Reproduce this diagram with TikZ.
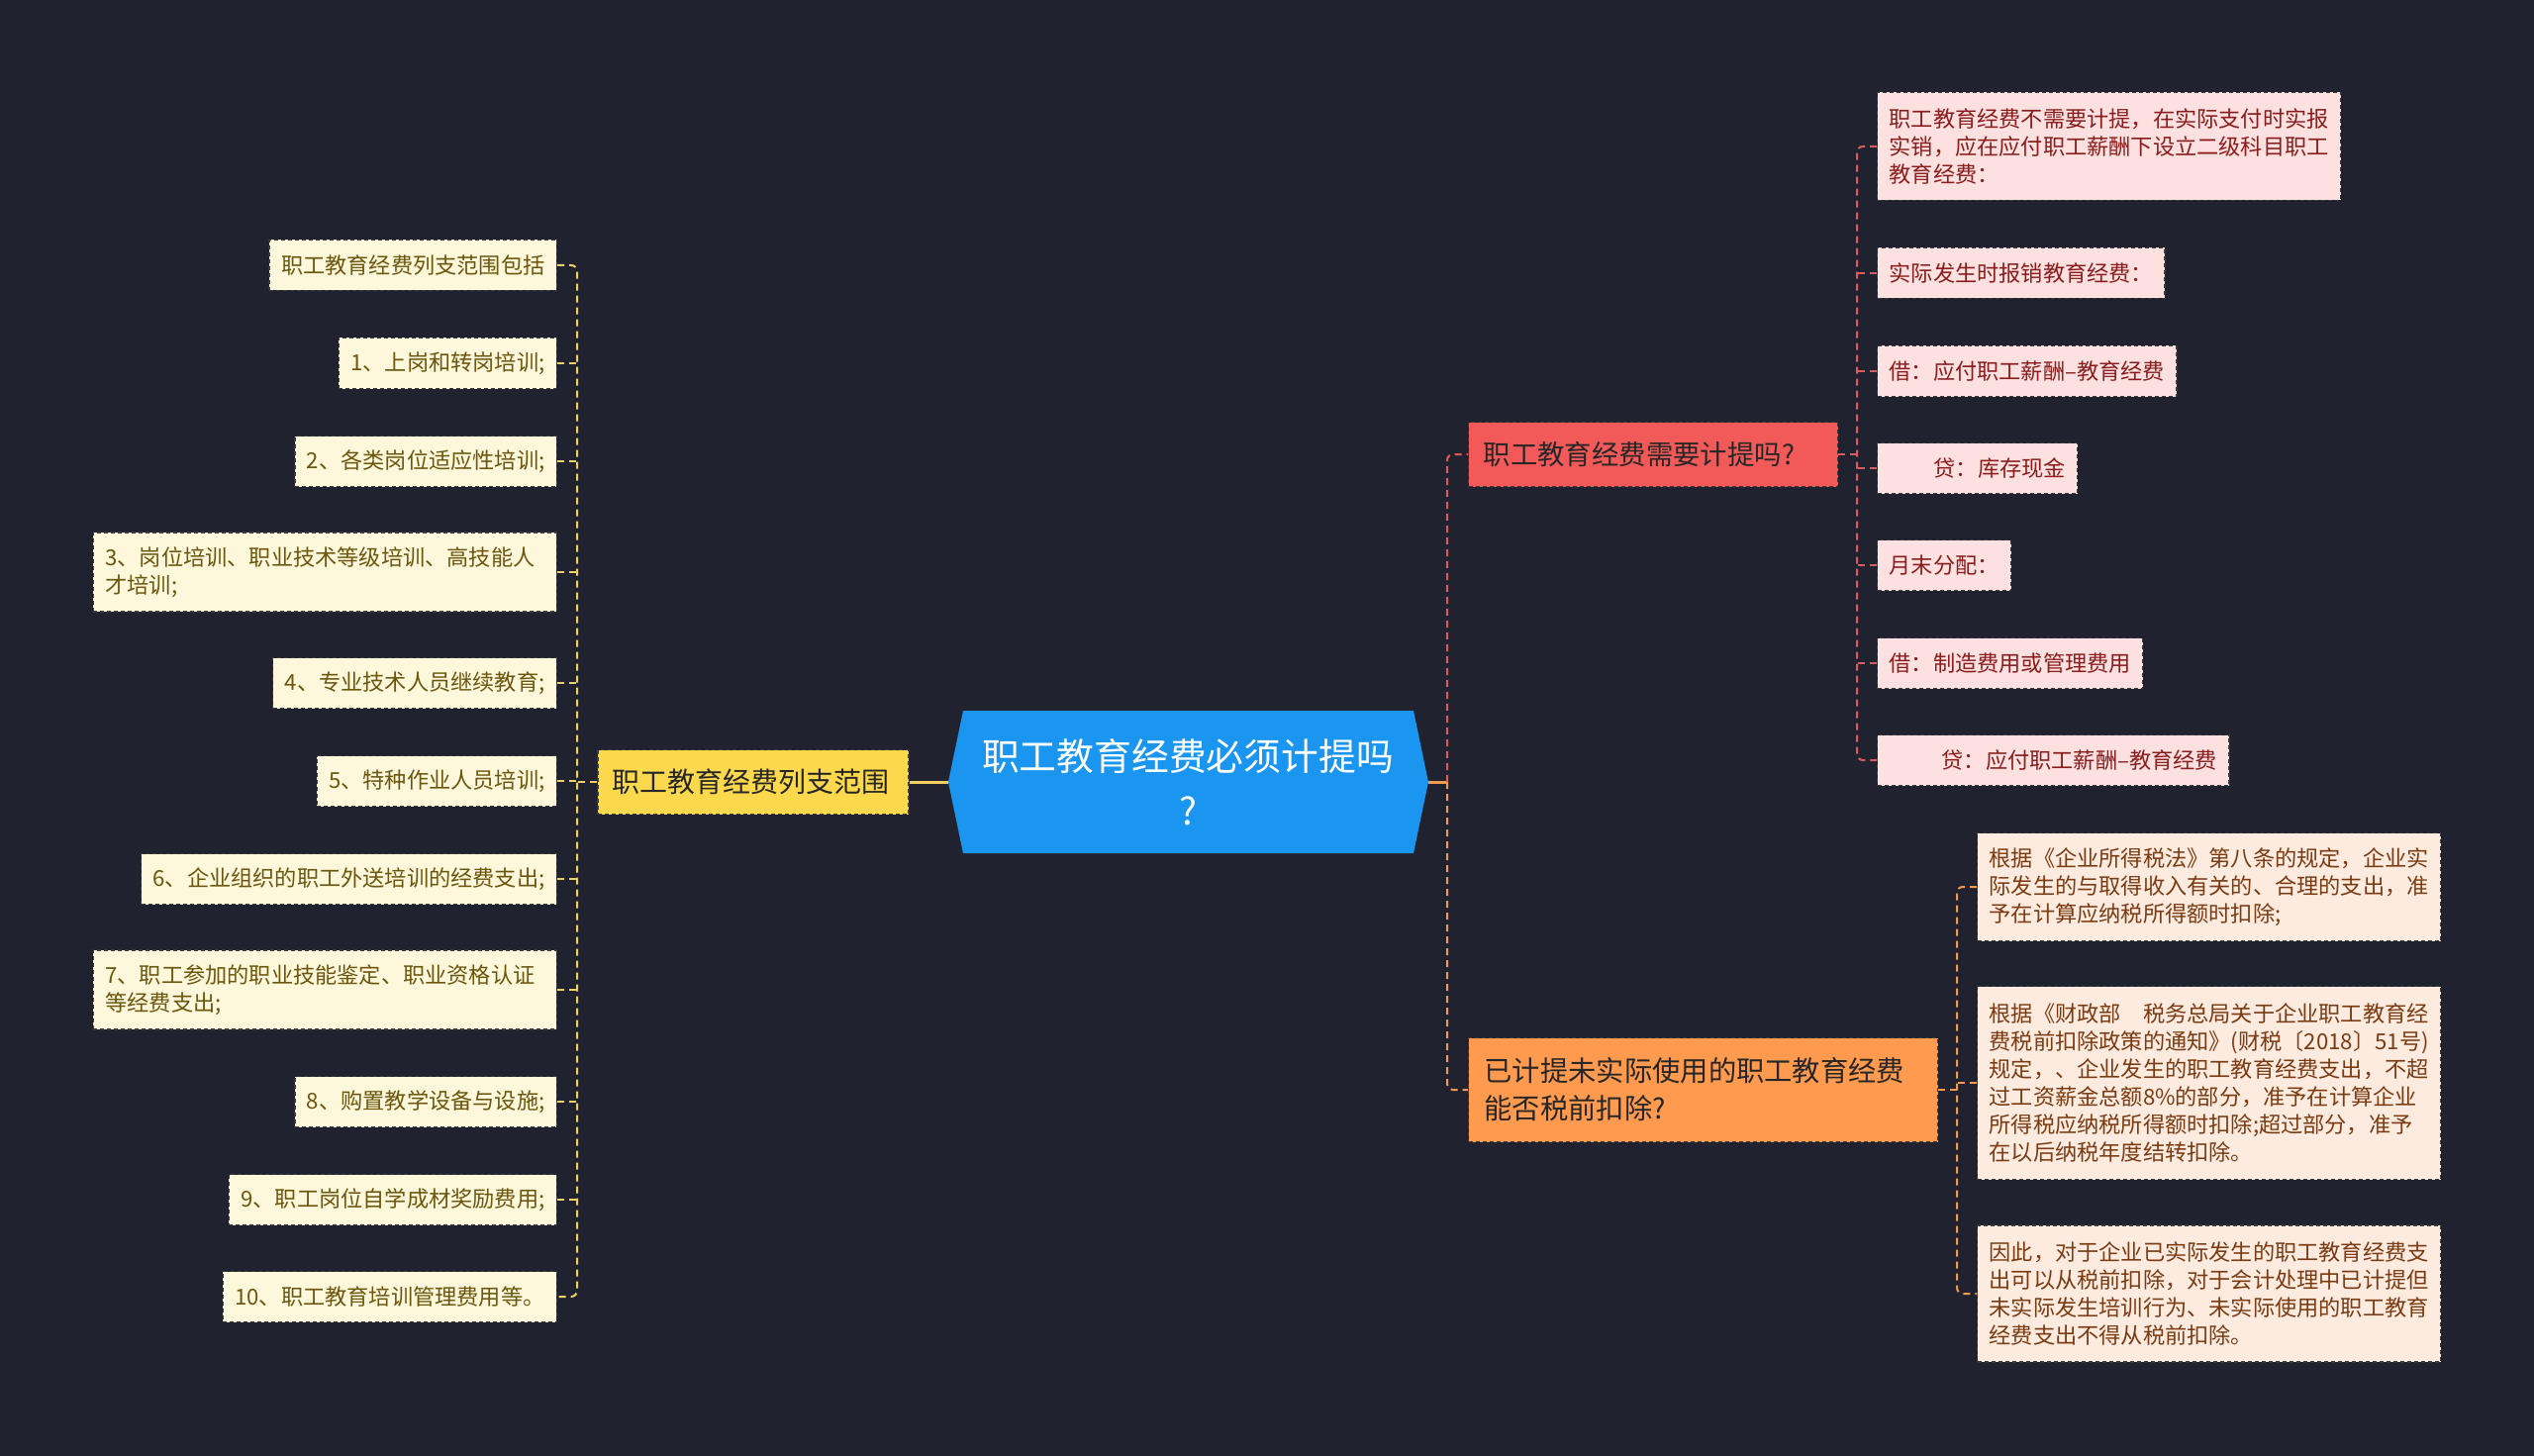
\documentclass[tikz,border=0pt]{standalone}
\usepackage{fontspec}
\setmainfont{Noto Sans CJK SC}
\definecolor{bg}{HTML}{20232F}
\definecolor{cblue}{HTML}{1B96F0}
\definecolor{myel}{HTML}{FCD84C}
\definecolor{mred}{HTML}{F25A5A}
\definecolor{morg}{HTML}{FF9A4E}
\definecolor{lyel}{HTML}{FDF7DC}
\definecolor{tyel}{HTML}{6B560C}
\definecolor{lred}{HTML}{FDE1E1}
\definecolor{tred}{HTML}{8A1C1C}
\definecolor{lorg}{HTML}{FDEBDF}
\definecolor{torg}{HTML}{7A3B12}
\definecolor{yline}{HTML}{F2D060}
\definecolor{rline}{HTML}{E05A5C}
\definecolor{oline}{HTML}{F29A50}
\definecolor{edge}{HTML}{3A3A3A}
\begin{document}
\begin{tikzpicture}[x=0.5pt,y=-0.5pt,
  lbox/.style={rectangle, draw=edge, dash pattern=on 2pt off 1.5pt, line width=0.6pt,
    inner xsep=6pt, inner ysep=4pt, align=left,
    font=\fontsize{11.1pt}{14pt}\selectfont, minimum height=25.5pt},
  yleaf/.style={lbox, fill=lyel, text=tyel, anchor=east},
  rleaf/.style={lbox, fill=lred, text=tred, anchor=west},
  oleaf/.style={lbox, fill=lorg, text=torg, anchor=west},
  mainbox/.style={rectangle, draw=edge, dash pattern=on 2pt off 1.5pt, line width=0.6pt,
    inner ysep=4pt, align=left, text=black!85},
  ydash/.style={draw=yline, line width=1pt, dash pattern=on 3.5pt off 2.5pt, rounded corners=3pt},
  rdash/.style={draw=rline, line width=1pt, dash pattern=on 3.5pt off 2.5pt, rounded corners=3pt},
  odash/.style={draw=oline, line width=1pt, dash pattern=on 3.5pt off 2.5pt, rounded corners=3pt},
]
\fill[bg] (0,0) rectangle (2560,1471);
\useasboundingbox (0,0) rectangle (2560,1471);

% centre
\fill[cblue] (958,790) -- (973,718) -- (1428,718) -- (1443,790) -- (1428,862) -- (973,862) -- cycle;
\node[font=\fontsize{18.9pt}{27.5pt}\selectfont, text=white, align=center] (c) at (1200,790) {职工教育经费必须计提吗\\?};
\coordinate (cw) at (958,790);
\coordinate (ce) at (1443,790);
\coordinate (lj) at (583,790);
\coordinate (cj) at (1462,790);
\coordinate (rj) at (1876,459);
\coordinate (oj) at (1977,1101);

% main nodes
\node[mainbox, fill=myel, inner xsep=7pt, text width=143pt, minimum height=32.5pt,
  font=\fontsize{14pt}{19pt}\selectfont] (ym) at (761,790) {职工教育经费列支范围};
\node[mainbox, fill=mred, anchor=west, inner xsep=7.5pt, text width=171.5pt, minimum height=32.5pt,
  font=\fontsize{13.7pt}{19pt}\selectfont] (rm) at (1483,459) {职工教育经费需要计提吗?};
\node[mainbox, fill=morg, anchor=west, inner xsep=8pt, text width=221pt, minimum height=52.5pt,
  font=\fontsize{14.15pt}{19pt}\selectfont] (om) at (1483,1101) {已计提未实际使用的职工教育经费\\能否税前扣除?};

% left leaves
\node[yleaf] (l0) at (563,268) {职工教育经费列支范围包括};
\node[yleaf] (l1) at (563,367) {1、上岗和转岗培训;};
\node[yleaf] (l2) at (563,466) {2、各类岗位适应性培训;};
\node[yleaf, text width=222pt, minimum height=40pt] (l3) at (563,578) {3、岗位培训、职业技术等级培训、高技能人\\才培训;};
\node[yleaf] (l4) at (563,690) {4、专业技术人员继续教育;};
\node[yleaf] (l5) at (563,789) {5、特种作业人员培训;};
\node[yleaf] (l6) at (563,888) {6、企业组织的职工外送培训的经费支出;};
\node[yleaf, text width=222pt, minimum height=40pt] (l7) at (563,1000) {7、职工参加的职业技能鉴定、职业资格认证\\等经费支出;};
\node[yleaf] (l8) at (563,1113) {8、购置教学设备与设施;};
\node[yleaf] (l9) at (563,1212) {9、职工岗位自学成材奖励费用;};
\node[yleaf] (l10) at (563,1310) {10、职工教育培训管理费用等。};

% red leaves
\node[rleaf, text width=222pt, minimum height=54.5pt] (r0) at (1896,148) {职工教育经费不需要计提，在实际支付时实报\\实销，应在应付职工薪酬下设立二级科目职工\\教育经费：};
\node[rleaf] (r1) at (1896,276) {实际发生时报销教育经费：};
\node[rleaf] (r2) at (1896,375) {借：应付职工薪酬–教育经费};
\node[rleaf] (r3) at (1896,473) {\hspace*{22.5pt}贷：库存现金};
\node[rleaf] (r4) at (1896,571) {月末分配：};
\node[rleaf] (r5) at (1896,670) {借：制造费用或管理费用};
\node[rleaf] (r6) at (1896,768) {\hspace*{26.5pt}贷：应付职工薪酬–教育经费};

% orange leaves
\node[oleaf, text width=222pt, minimum height=54.5pt] (o0) at (1997,896) {根据《企业所得税法》第八条的规定，企业实\\际发生的与取得收入有关的、合理的支出，准\\予在计算应纳税所得额时扣除;};
\node[oleaf, text width=222pt, minimum height=97.5pt] (o1) at (1997,1094) {根据《财政部　税务总局关于企业职工教育经\\费税前扣除政策的通知》(财税〔2018〕51号)\\规定，、企业发生的职工教育经费支出，不超\\过工资薪金总额8\%的部分，准予在计算企业\\所得税应纳税所得额时扣除;超过部分，准予\\在以后纳税年度结转扣除。};
\node[oleaf, text width=222pt, minimum height=69pt] (o2) at (1997,1307) {因此，对于企业已实际发生的职工教育经费支\\出可以从税前扣除，对于会计处理中已计提但\\未实际发生培训行为、未实际使用的职工教育\\经费支出不得从税前扣除。};

% connectors: centre
\draw[yline, line width=1.5pt] (cw) -- (ym.east);
\draw[oline, line width=1.5pt] (ce) -- (cj);
\draw[rdash] (cj) |- (rm.west);
\draw[odash] (cj) |- (om.west);

% left tree
\draw[ydash] (ym.west) -- (lj);
\draw[ydash] (l0.east) -| (lj) |- (l10.east);
\foreach \k in {1,...,9} { \draw[ydash] (l\k.east) -- (l\k.east -| lj); }

% red tree
\draw[rdash] (rm.east) -- (rj);
\draw[rdash] (r0.west) -| (rj) |- (r6.west);
\foreach \k in {1,...,5} { \draw[rdash] (r\k.west) -- (r\k.west -| rj); }

% orange tree
\draw[odash] (om.east) -- (oj);
\draw[odash] (o0.west) -| (oj) |- (o2.west);
\draw[odash] (o1.west) -- (o1.west -| oj);
\end{tikzpicture}
\end{document}
